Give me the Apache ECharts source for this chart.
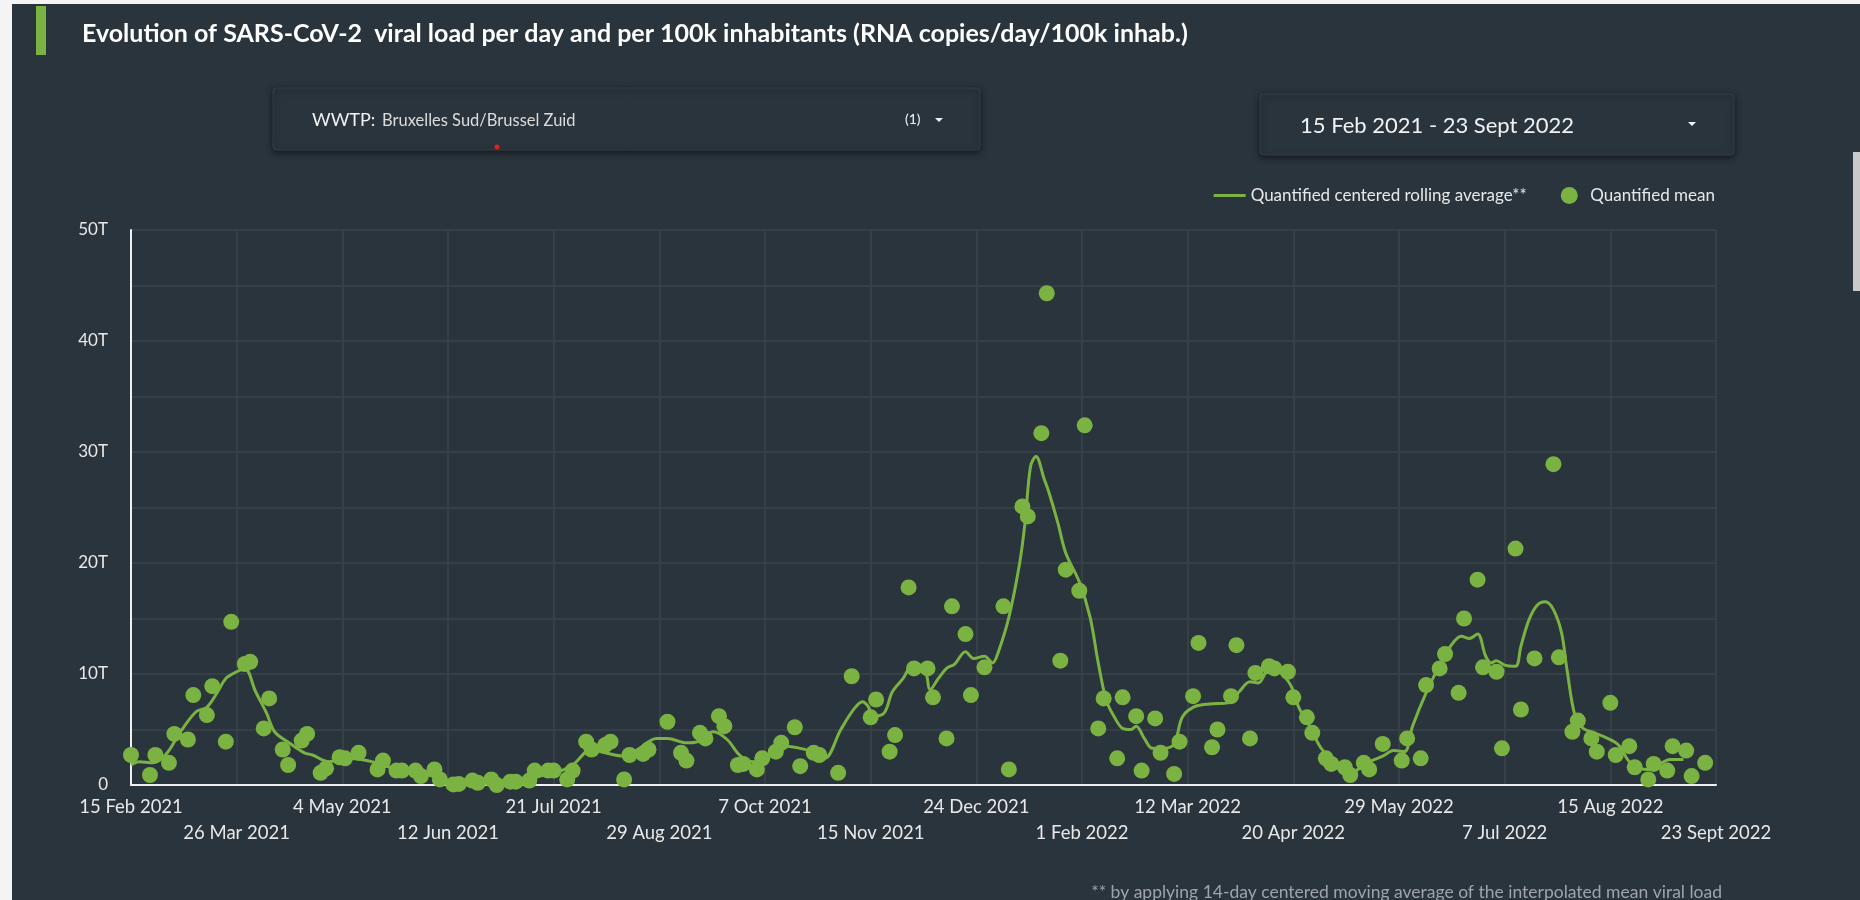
<!DOCTYPE html>
<html>
<head>
<meta charset="utf-8">
<title>SARS-CoV-2 viral load</title>
<script src="https://cdn.jsdelivr.net/npm/echarts@6/dist/echarts.min.js"></script>
<style>
  html, body { margin: 0; padding: 0; background: #f4f4f4; }
  #chart { width: 1860px; height: 900px; }
</style>
</head>
<body>
<div id="chart"></div>
<script>
// x axis runs in days from the first date, one tick every 39 days
const startDate = '2021-02-15'
const tickLabels = ['15 Feb 2021', '26 Mar 2021', '4 May 2021', '12 Jun 2021', '21 Jul 2021', '29 Aug 2021',
  '7 Oct 2021', '15 Nov 2021', '24 Dec 2021', '1 Feb 2022', '12 Mar 2022', '20 Apr 2022',
  '29 May 2022', '7 Jul 2022', '15 Aug 2022', '23 Sept 2022']

// quantified mean (T copies/day/100k inhab.)
const meanDates = [
  '2021-02-15', '2021-02-22', '2021-02-24', '2021-03-01', '2021-03-03', '2021-03-08', '2021-03-10', '2021-03-15',
  '2021-03-17', '2021-03-22', '2021-03-24', '2021-03-29', '2021-03-31', '2021-04-05', '2021-04-07', '2021-04-12',
  '2021-04-14', '2021-04-19', '2021-04-21', '2021-04-26', '2021-04-28', '2021-05-03', '2021-05-05', '2021-05-10',
  '2021-05-17', '2021-05-19', '2021-05-24', '2021-05-26', '2021-05-31', '2021-06-02', '2021-06-07', '2021-06-09',
  '2021-06-14', '2021-06-16', '2021-06-21', '2021-06-23', '2021-06-28', '2021-06-30', '2021-07-05', '2021-07-07',
  '2021-07-12', '2021-07-14', '2021-07-19', '2021-07-21', '2021-07-26', '2021-07-28', '2021-08-02', '2021-08-04',
  '2021-08-09', '2021-08-11', '2021-08-16', '2021-08-18', '2021-08-23', '2021-08-25', '2021-09-01', '2021-09-06',
  '2021-09-08', '2021-09-13', '2021-09-15', '2021-09-20', '2021-09-22', '2021-09-27', '2021-09-29', '2021-10-04',
  '2021-10-06', '2021-10-11', '2021-10-13', '2021-10-18', '2021-10-20', '2021-10-25', '2021-10-27', '2021-11-03',
  '2021-11-08', '2021-11-15', '2021-11-17', '2021-11-22', '2021-11-24', '2021-11-29', '2021-12-01', '2021-12-06',
  '2021-12-08', '2021-12-13', '2021-12-15', '2021-12-20', '2021-12-22', '2021-12-27', '2022-01-03', '2022-01-05',
  '2022-01-10', '2022-01-12', '2022-01-17', '2022-01-19', '2022-01-24', '2022-01-26', '2022-01-31', '2022-02-02',
  '2022-02-07', '2022-02-09', '2022-02-14', '2022-02-16', '2022-02-21', '2022-02-23', '2022-02-28', '2022-03-02',
  '2022-03-07', '2022-03-09', '2022-03-14', '2022-03-16', '2022-03-21', '2022-03-23', '2022-03-28', '2022-03-30',
  '2022-04-04', '2022-04-06', '2022-04-11', '2022-04-13', '2022-04-18', '2022-04-20', '2022-04-25', '2022-04-27',
  '2022-05-02', '2022-05-04', '2022-05-09', '2022-05-11', '2022-05-16', '2022-05-18', '2022-05-23', '2022-05-30',
  '2022-06-01', '2022-06-06', '2022-06-08', '2022-06-13', '2022-06-15', '2022-06-20', '2022-06-22', '2022-06-27',
  '2022-06-29', '2022-07-04', '2022-07-06', '2022-07-11', '2022-07-13', '2022-07-18', '2022-07-25', '2022-07-27',
  '2022-08-01', '2022-08-03', '2022-08-08', '2022-08-10', '2022-08-15', '2022-08-17', '2022-08-22', '2022-08-24',
  '2022-08-29', '2022-08-31', '2022-09-05', '2022-09-07', '2022-09-12', '2022-09-14', '2022-09-19'
]
const meanValues = [
  2.7, 0.9, 2.7, 2.0, 4.6, 4.1, 8.1, 6.3,
  8.9, 3.9, 14.7, 10.9, 11.1, 5.1, 7.8, 3.2,
  1.8, 4.0, 4.6, 1.1, 1.5, 2.5, 2.4, 2.9,
  1.4, 2.2, 1.3, 1.3, 1.3, 0.8, 1.4, 0.5,
  0.05, 0.1, 0.4, 0.2, 0.5, 0.0, 0.3, 0.3,
  0.4, 1.3, 1.3, 1.3, 0.5, 1.3, 3.9, 3.2,
  3.6, 3.9, 0.5, 2.7, 2.8, 3.2, 5.7, 2.9,
  2.2, 4.7, 4.2, 6.2, 5.3, 1.8, 1.9, 1.4,
  2.4, 3.0, 3.8, 5.2, 1.7, 2.9, 2.7, 1.1,
  9.8, 6.1, 7.7, 3.0, 4.5, 17.8, 10.5, 10.5,
  7.9, 4.2, 16.1, 13.6, 8.1, 10.6, 16.1, 1.4,
  25.1, 24.2, 31.7, 44.3, 11.2, 19.4, 17.5, 32.4,
  5.1, 7.8, 2.4, 7.9, 6.2, 1.3, 6.0, 2.9,
  1.0, 3.9, 8.0, 12.8, 3.4, 5.0, 8.0, 12.6,
  4.2, 10.1, 10.7, 10.5, 10.2, 7.9, 6.1, 4.7,
  2.4, 1.9, 1.6, 0.9, 2.0, 1.4, 3.7, 2.2,
  4.2, 2.4, 9.0, 10.5, 11.8, 8.3, 15.0, 18.5,
  10.6, 10.2, 3.3, 21.3, 6.8, 11.4, 28.9, 11.5,
  4.8, 5.8, 4.2, 3.0, 7.4, 2.7, 3.5, 1.6,
  0.5, 1.9, 1.3, 3.5, 3.1, 0.8, 2.0
]

// quantified centered rolling average (T copies/day/100k inhab.)
const avgDates = [
  '2021-02-15', '2021-02-18', '2021-02-23', '2021-02-28', '2021-03-05', '2021-03-11', '2021-03-15', '2021-03-19',
  '2021-03-22', '2021-03-26', '2021-03-29', '2021-04-02', '2021-04-06', '2021-04-09', '2021-04-15', '2021-04-20',
  '2021-04-23', '2021-04-29', '2021-05-06', '2021-05-13', '2021-05-19', '2021-05-26', '2021-06-03', '2021-06-09',
  '2021-06-14', '2021-06-21', '2021-06-28', '2021-07-05', '2021-07-09', '2021-07-16', '2021-07-23', '2021-07-28',
  '2021-08-04', '2021-08-09', '2021-08-16', '2021-08-21', '2021-08-28', '2021-09-01', '2021-09-08', '2021-09-12',
  '2021-09-18', '2021-09-23', '2021-09-28', '2021-10-03', '2021-10-10', '2021-10-15', '2021-10-20', '2021-10-26',
  '2021-10-29', '2021-11-04', '2021-11-09', '2021-11-12', '2021-11-14', '2021-11-16', '2021-11-20', '2021-11-23',
  '2021-11-27', '2021-12-01', '2021-12-05', '2021-12-07', '2021-12-10', '2021-12-13', '2021-12-16', '2021-12-20',
  '2021-12-23', '2021-12-27', '2021-12-30', '2022-01-01', '2022-01-05', '2022-01-09', '2022-01-11', '2022-01-13',
  '2022-01-15', '2022-01-18', '2022-01-20', '2022-01-23', '2022-01-26', '2022-01-31', '2022-02-04', '2022-02-07',
  '2022-02-10', '2022-02-13', '2022-02-16', '2022-02-19', '2022-02-21', '2022-02-24', '2022-02-27', '2022-03-03',
  '2022-03-07', '2022-03-10', '2022-03-14', '2022-03-20', '2022-03-27', '2022-03-31', '2022-04-04', '2022-04-07',
  '2022-04-10', '2022-04-12', '2022-04-15', '2022-04-19', '2022-04-22', '2022-04-26', '2022-04-30', '2022-05-04',
  '2022-05-09', '2022-05-12', '2022-05-16', '2022-05-20', '2022-05-23', '2022-05-27', '2022-05-31', '2022-06-03',
  '2022-06-08', '2022-06-13', '2022-06-17', '2022-06-21', '2022-06-24', '2022-06-27', '2022-06-30', '2022-07-02',
  '2022-07-04', '2022-07-07', '2022-07-11', '2022-07-13', '2022-07-16', '2022-07-19', '2022-07-22', '2022-07-25',
  '2022-07-28', '2022-07-30', '2022-08-02', '2022-08-05', '2022-08-09', '2022-08-14', '2022-08-18', '2022-08-22',
  '2022-08-26', '2022-08-29', '2022-09-03', '2022-09-06', '2022-09-11'
]
const avgValues = [
  1.8, 2.1, 2.0, 2.8, 4.7, 6.6, 7.0, 8.4,
  9.6, 10.2, 10.5, 8.4, 6.5, 4.8, 3.7, 2.9,
  2.7, 2.1, 2.4, 2.2, 1.8, 1.3, 1.0, 0.6,
  0.3, 0.25, 0.3, 0.25, 0.2, 0.8, 1.2, 1.8,
  3.2, 2.9, 2.6, 3.2, 4.2, 4.2, 3.8, 3.9,
  4.8, 4.1, 2.6, 2.1, 3.0, 3.5, 3.3, 2.9,
  2.4, 5.0, 6.9, 7.5, 7.1, 6.2, 6.5, 8.4,
  9.6, 11.0, 10.4, 8.6, 9.6, 10.5, 10.9, 12.0,
  11.4, 11.6, 11.0, 11.9, 15.1, 20.0, 23.7, 28.7,
  29.6, 27.6, 26.2, 23.7, 20.9, 18.3, 15.1, 11.0,
  7.6, 6.1, 5.1, 5.0, 5.3, 4.2, 3.3, 3.3,
  3.7, 6.1, 7.0, 7.3, 7.4, 8.4, 9.3, 9.2,
  10.2, 10.7, 10.2, 9.0, 7.0, 5.3, 3.4, 2.3,
  1.6, 1.2, 1.8, 2.3, 2.6, 3.1, 3.0, 5.3,
  8.3, 10.8, 12.5, 13.4, 13.2, 13.6, 11.6, 11.0,
  11.2, 10.8, 10.7, 12.5, 14.9, 16.2, 16.5, 15.8,
  13.7, 10.4, 6.2, 5.1, 4.7, 4.2, 3.6, 2.1,
  1.5, 1.4, 2.0, 2.3, 2.3
]

const green = '#7ab342'
const bg = '#2a343c'
const DAY = 86400000

function dayOf(d) {
  return (Date.parse(d) - Date.parse(startDate)) / DAY
}

const meanData = meanDates.map((d, i) => [dayOf(d), meanValues[i]])
const avgData = avgDates.map((d, i) => [dayOf(d), avgValues[i]])

// the date labels sit on two rows: even ticks on the first axis, odd ticks on a second one just below
function dateAxis(row) {
  return {
    type: 'value',
    position: 'bottom',
    min: 0,
    max: 585,
    interval: 39,
    axisLine: { show: row === 0, lineStyle: { color: '#f0f0f0', width: 2 } },
    axisTick: { show: false },
    splitLine: { show: row === 0, lineStyle: { color: '#3b4349', width: 1.5 } },
    axisLabel: {
      color: '#e8e8e8',
      fontSize: 18.5,
      margin: row === 0 ? 9 : 35,
      lineHeight: 26,
      showMinLabel: true,
      showMaxLabel: true,
      formatter: function (v) {
        const i = Math.round(v / 39)
        return i % 2 === row ? tickLabels[i] : ''
      }
    }
  }
}

const chart = echarts.init(document.getElementById('chart'))

chart.setOption({
  backgroundColor: bg,
  textStyle: { fontFamily: 'Lato' },
  animation: false,
  title: {
    text: 'Evolution of SARS-CoV-2  viral load per day and per 100k inhabitants (RNA copies/day/100k inhab.)',
    left: 77,
    top: 16,
    textStyle: { color: '#ffffff', fontSize: 25, fontWeight: 'bold', fontFamily: 'Lato' }
  },
  legend: {
    right: 140,
    top: 182,
    itemWidth: 32,
    itemHeight: 17,
    itemGap: 34,
    textStyle: { color: '#e8e8e8', fontSize: 17 },
    data: [
      { name: 'Quantified centered rolling average**', icon: 'path://M0,0 H32 V3 H0 Z' },
      { name: 'Quantified mean', icon: 'circle' }
    ]
  },
  grid: {
    left: 131,
    right: 144,
    top: 230,
    bottom: 115
  },
  xAxis: [dateAxis(0), dateAxis(1)],
  yAxis: {
    type: 'value',
    min: 0,
    max: 50,
    interval: 5,
    axisLine: { show: true, lineStyle: { color: '#f0f0f0', width: 2 } },
    axisTick: { show: false },
    splitLine: { show: true, lineStyle: { color: '#3b4349', width: 1.5 } },
    axisLabel: {
      color: '#e8e8e8',
      fontSize: 17,
      margin: 23,
      formatter: function (v) {
        if (v % 10 !== 0) return ''
        return v === 0 ? '0' : v + 'T'
      }
    }
  },
  series: [
    {
      name: 'Quantified centered rolling average**',
      type: 'line',
      xAxisIndex: 0,
      data: avgData,
      symbol: 'none',
      smooth: 0.35,
      lineStyle: { color: green, width: 3 },
      itemStyle: { color: green },
      z: 2
    },
    {
      name: 'Quantified mean',
      type: 'scatter',
      xAxisIndex: 0,
      data: meanData,
      symbolSize: 16,
      itemStyle: { color: green, opacity: 1 },
      z: 3
    }
  ],
  graphic: [
    // page margins and scrollbar
    { type: 'rect', shape: { x: 0, y: 0, width: 12, height: 900 }, style: { fill: '#f4f4f4' }, silent: true },
    { type: 'rect', shape: { x: 0, y: 0, width: 1860, height: 4 }, style: { fill: '#f4f4f4' }, silent: true },
    { type: 'rect', shape: { x: 1853, y: 152, width: 7, height: 139 }, style: { fill: '#c9c9c9' }, silent: true },
    // title accent bar
    { type: 'rect', shape: { x: 36, y: 6, width: 10, height: 49 }, style: { fill: green }, silent: true },
    // WWTP selector
    {
      type: 'rect',
      shape: { x: 273, y: 88, width: 707, height: 62, r: 3 },
      style: { fill: bg, stroke: '#353f47', lineWidth: 1, shadowBlur: 6, shadowOffsetY: 2, shadowColor: 'rgba(0,0,0,0.55)' },
      silent: true
    },
    {
      type: 'text',
      style: { text: 'WWTP:', x: 312, y: 120, font: '18px Lato', fill: '#f2f2f2', textVerticalAlign: 'middle', verticalAlign: 'middle' },
      silent: true
    },
    {
      type: 'text',
      style: { text: 'Bruxelles Sud/Brussel Zuid', x: 382, y: 121, font: '16.5px Lato', fill: '#dcdcdc', textVerticalAlign: 'middle', verticalAlign: 'middle' },
      silent: true
    },
    {
      type: 'text',
      style: { text: '(1)', x: 905, y: 119, font: '14px Lato', fill: '#f2f2f2', textVerticalAlign: 'middle', verticalAlign: 'middle' },
      silent: true
    },
    { type: 'polygon', shape: { points: [[935, 118], [943, 118], [939, 122]] }, style: { fill: '#f2f2f2' }, silent: true },
    { type: 'circle', shape: { cx: 497, cy: 147, r: 2.5 }, style: { fill: '#e0201c' }, silent: true },
    // date range selector
    {
      type: 'rect',
      shape: { x: 1260, y: 94, width: 474, height: 61, r: 3 },
      style: { fill: bg, stroke: '#353f47', lineWidth: 1, shadowBlur: 6, shadowOffsetY: 2, shadowColor: 'rgba(0,0,0,0.55)' },
      silent: true
    },
    {
      type: 'text',
      style: { text: '15 Feb 2021 - 23 Sept 2022', x: 1300, y: 126, font: '22px Lato', fill: '#f2f2f2', textVerticalAlign: 'middle', verticalAlign: 'middle' },
      silent: true
    },
    { type: 'polygon', shape: { points: [[1688, 122], [1696, 122], [1692, 126]] }, style: { fill: '#f2f2f2' }, silent: true },
    // footnote
    {
      type: 'text',
      style: {
        text: '** by applying 14-day centered moving average of the interpolated mean viral load',
        x: 1722, y: 892, font: '17.5px Lato', fill: '#9ea4aa',
        textAlign: 'right', align: 'right', textVerticalAlign: 'middle', verticalAlign: 'middle'
      },
      silent: true
    }
  ]
})
</script>
</body>
</html>
